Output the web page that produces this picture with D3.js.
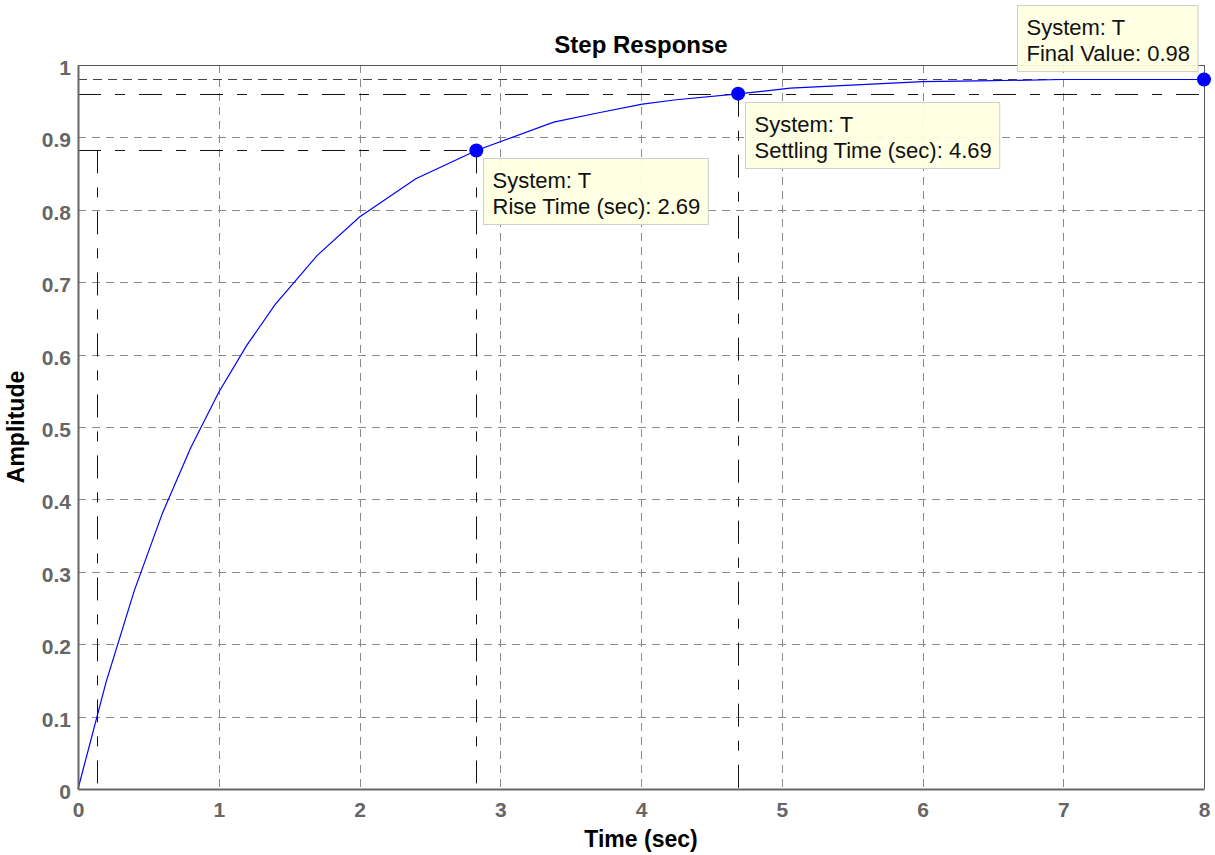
<!DOCTYPE html>
<html>
<head>
<meta charset="utf-8">
<script src="https://cdn.jsdelivr.net/npm/d3@7"></script>
<style>
  html, body { margin: 0; padding: 0; background: #fff; }
  svg { display: block; }
</style>
</head>
<body>
<svg id="chart" width="1215" height="855"></svg>
<script>
// ---- data ----
const timeSec   = [0, 0.2, 0.4, 0.6, 0.8, 1.0, 1.2, 1.4, 1.7, 2.0, 2.4, 2.83, 3.38, 3.7, 4.01, 4.25, 4.69, 5.06, 6.0, 6.39, 7.0, 8.0];
const amplitude = [0, 0.148, 0.274, 0.381, 0.471, 0.548, 0.613, 0.669, 0.737, 0.790, 0.843, 0.882, 0.921, 0.934, 0.946, 0.952, 0.960, 0.968, 0.977, 0.978, 0.980, 0.980];
const xTicks = [0, 1, 2, 3, 4, 5, 6, 7, 8];
const yTicks = [0, 0.1, 0.2, 0.3, 0.4, 0.5, 0.6, 0.7, 0.8, 0.9, 1];
const yTickLabels = ["0", "0.1", "0.2", "0.3", "0.4", "0.5", "0.6", "0.7", "0.8", "0.9", "1"];
const finalValue = 0.98;
const riseStart = 0.135, riseEnd = 2.83, riseLevelHi = 0.882;
const settleTime = 4.69, settleLevel = 0.9604;
const tipTitles = ["System: T", "System: T", "System: T"];
const tipTexts = ["Rise Time (sec): 2.69", "Settling Time (sec): 4.69", "Final Value: 0.98"];
const tipX = [riseEnd, settleTime, 8];
const tipY = [riseLevelHi, settleLevel, finalValue];
const tipSide = ["below-right", "below-right", "above-left"];

// ---- layout ----
const L = 78, R = 1204, T = 65, B = 789;
const svg = d3.select("#chart");
const x = d3.scaleLinear().domain([0, 8]).range([L, R]);
const y = d3.scaleLinear().domain([0, 1]).range([B, T]);

// grid
const grid = svg.append("g").attr("stroke", "#8a8a8a").attr("stroke-width", 1).attr("stroke-dasharray", "8,6").attr("fill", "none");
xTicks.forEach(t => grid.append("line").attr("x1", Math.round(x(t)) + 0.5).attr("x2", Math.round(x(t)) + 0.5).attr("y1", T).attr("y2", B));
yTicks.forEach(t => grid.append("line").attr("x1", L).attr("x2", R).attr("y1", Math.round(y(t)) + 0.5).attr("y2", Math.round(y(t)) + 0.5));

// characteristic lines
const ch = svg.append("g").attr("fill", "none").attr("stroke", "#111").attr("stroke-width", 1);
const dd = "23,14,10,14";
ch.append("line").attr("x1", L).attr("x2", R).attr("y1", Math.round(y(finalValue)) + 0.5).attr("y2", Math.round(y(finalValue)) + 0.5)
  .attr("stroke", "#444").attr("stroke-dasharray", "9,6");
ch.append("line").attr("x1", L).attr("x2", R).attr("y1", Math.round(y(settleLevel)) + 0.5).attr("y2", Math.round(y(settleLevel)) + 0.5).attr("stroke-dasharray", dd);
ch.append("line").attr("x1", L).attr("x2", x(riseEnd)).attr("y1", Math.round(y(riseLevelHi)) + 0.5).attr("y2", Math.round(y(riseLevelHi)) + 0.5).attr("stroke-dasharray", dd);
[[riseStart, riseLevelHi], [riseEnd, riseLevelHi], [settleTime, settleLevel]].forEach(([tx, ty]) => {
  ch.append("line").attr("x1", Math.round(x(tx)) + 0.5).attr("x2", Math.round(x(tx)) + 0.5)
    .attr("y1", y(ty)).attr("y2", B).attr("stroke-dasharray", dd);
});

// curve
const pts = timeSec.map((t, i) => [t, amplitude[i]]);
svg.append("path").datum(pts)
  .attr("d", d3.line().x(d => x(d[0])).y(d => y(d[1])))
  .attr("fill", "none").attr("stroke", "#0000ff").attr("stroke-width", 1.2);

// axes box
svg.append("line").attr("x1", L).attr("x2", R).attr("y1", T + 0.5).attr("y2", T + 0.5).attr("stroke", "#555").attr("stroke-width", 1);
svg.append("line").attr("x1", R + 0.5).attr("x2", R + 0.5).attr("y1", T).attr("y2", B).attr("stroke", "#555").attr("stroke-width", 1);

const font = "Liberation Sans, Arial, sans-serif";
const xAxis = d3.axisBottom(x).tickValues(xTicks).tickFormat(d3.format("d")).tickSize(0).tickPadding(13);
const gx = svg.append("g").attr("transform", `translate(0,${B})`).call(xAxis);
gx.select(".domain").attr("stroke", "#666").attr("stroke-width", 2);
gx.selectAll("text").attr("font-family", font).attr("font-weight", "bold")
  .attr("font-size", 21).attr("fill", "#666");

const yAxis = d3.axisLeft(y).tickValues(yTicks).tickFormat((d, i) => yTickLabels[i]).tickSize(0).tickPadding(7);
const gy = svg.append("g").attr("transform", `translate(${L},0)`).call(yAxis);
gy.select(".domain").attr("stroke", "#666").attr("stroke-width", 2);
gy.selectAll("text").attr("font-family", font).attr("font-weight", "bold")
  .attr("font-size", 21).attr("fill", "#666").attr("dy", "0.45em");

// markers
svg.append("g").selectAll("circle").data(tipX).join("circle")
  .attr("cx", d => x(d)).attr("cy", (d, i) => y(tipY[i])).attr("r", 7).attr("fill", "#0000ff");

// titles
svg.append("text").attr("x", (L + R) / 2).attr("y", 53).attr("text-anchor", "middle")
  .attr("font-family", font).attr("font-weight", "bold").attr("font-size", 24).attr("fill", "#000").text("Step Response");
svg.append("text").attr("x", (L + R) / 2).attr("y", 847).attr("text-anchor", "middle")
  .attr("font-family", font).attr("font-weight", "bold").attr("font-size", 23).attr("fill", "#000").text("Time (sec)");
svg.append("text").attr("transform", `translate(24,${(T + B) / 2}) rotate(-90)`).attr("text-anchor", "middle")
  .attr("font-family", font).attr("font-weight", "bold").attr("font-size", 23).attr("fill", "#000").text("Amplitude");

// data tips
tipX.forEach((tx, i) => {
  const g = svg.append("g");
  const rect = g.append("rect").attr("fill", "#ffffe1").attr("stroke", "#cfcfcf").attr("stroke-width", 1);
  const t1 = g.append("text").attr("font-family", font).attr("font-size", 22).attr("fill", "#111").text(tipTitles[i]);
  const t2 = g.append("text").attr("font-family", font).attr("font-size", 22).attr("fill", "#111").text(tipTexts[i]);
  const w = Math.max(t1.node().getComputedTextLength(), t2.node().getComputedTextLength()) + 17;
  const h = 66;
  const mx = x(tx), my = y(tipY[i]);
  let bx, by;
  if (tipSide[i] === "below-right") { bx = mx + 7; by = my + 8; }
  else { bx = mx - 7 - w; by = my - 8 - h; }
  bx = Math.round(bx) + 0.5; by = Math.round(by) + 0.5;
  rect.attr("x", bx).attr("y", by).attr("width", w).attr("height", h).attr("fill-opacity", 0.92);
  t1.attr("x", bx + 9).attr("y", by + 29);
  t2.attr("x", bx + 9).attr("y", by + 55);
});
</script>
</body>
</html>
